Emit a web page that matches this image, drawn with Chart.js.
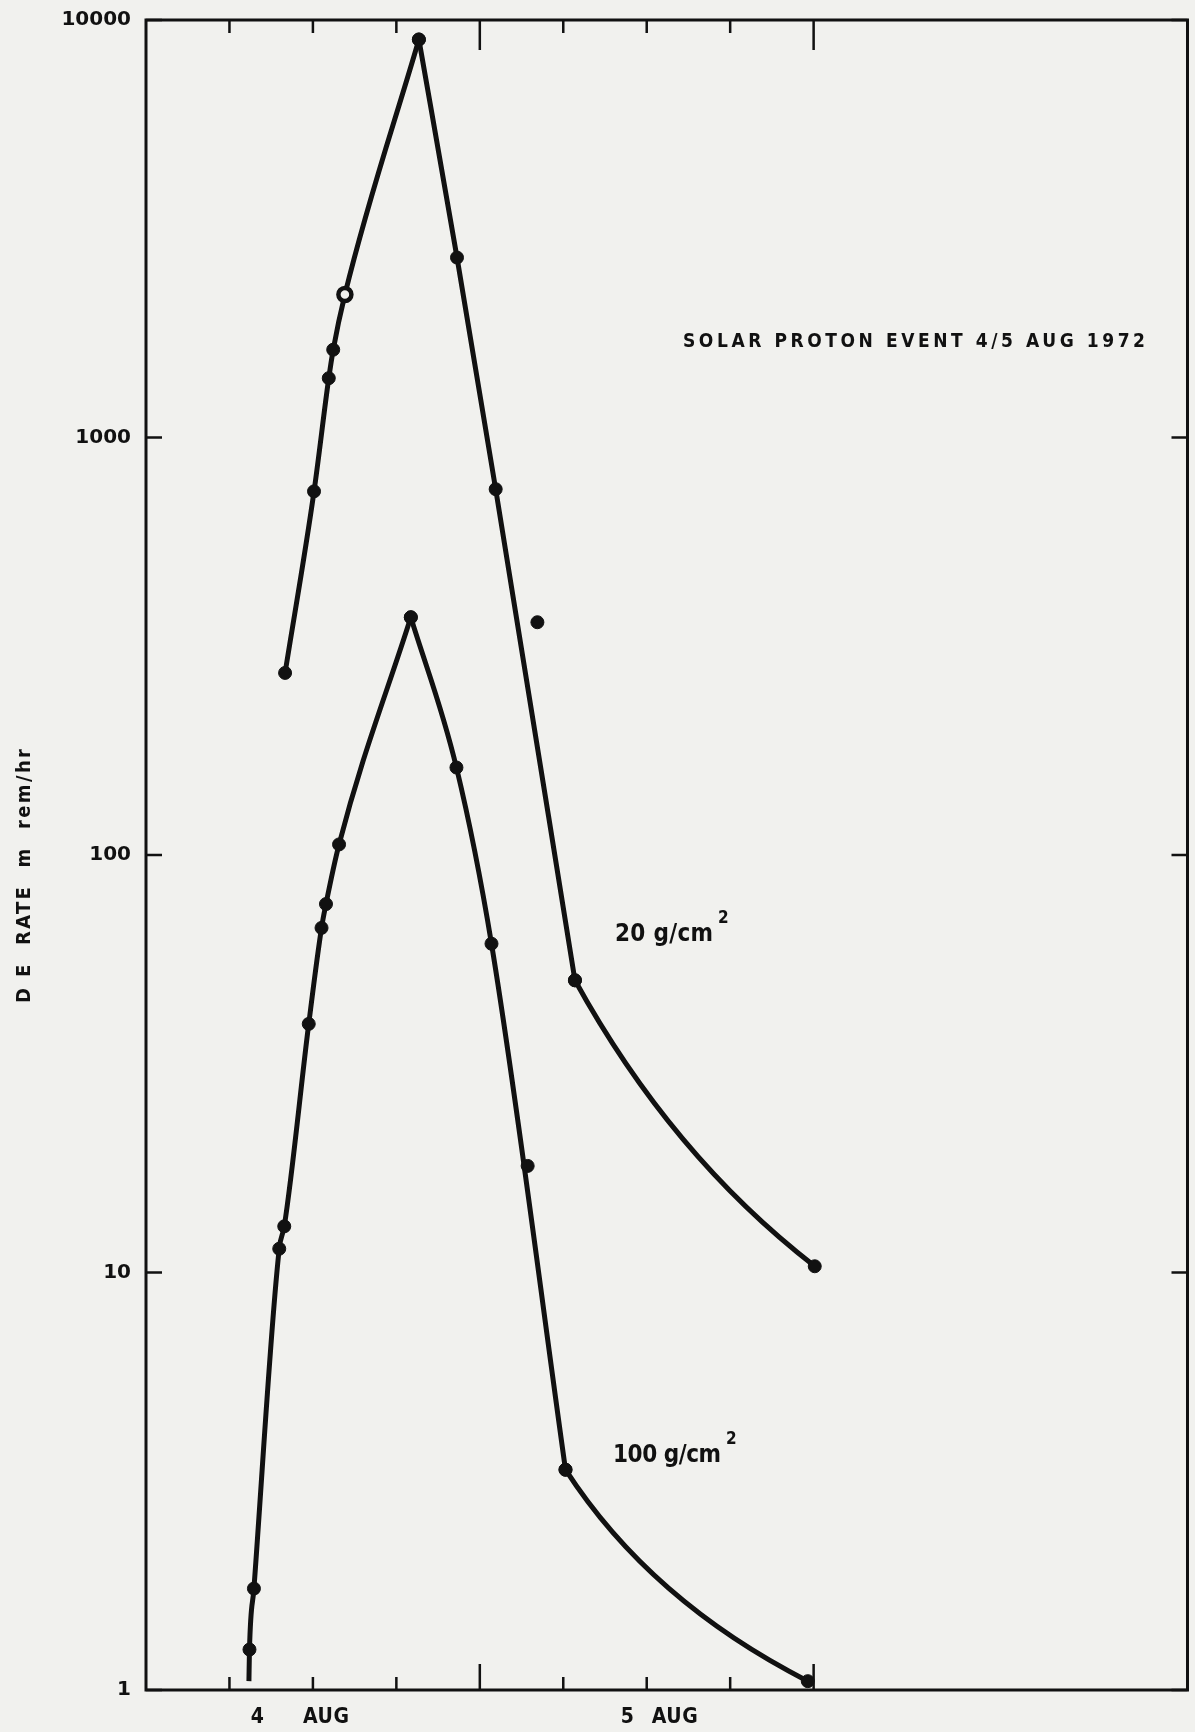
<!DOCTYPE html>
<html>
<head>
<meta charset="utf-8">
<title>Solar proton event 4/5 Aug 1972</title>
<script src="https://cdn.jsdelivr.net/npm/chart.js@4.4.0/dist/chart.umd.min.js"></script>
<style>
  html, body { margin: 0; padding: 0; background: #f1f1ee; }
  #wrap { width: 1195px; height: 1732px; position: relative; }
</style>
</head>
<body>
<div id="wrap"><canvas id="chart"></canvas></div>
<script>
/* Solar proton event 4/5 Aug 1972 — dose equivalent rate vs time */

// time axis in hours from the left edge, ticks every 3 h
const HOURS_20 = [5.00, 6.04, 6.57, 6.73, 7.15, 9.81, 11.18, 12.57, 15.42, 24.04];
const RATE_20  = [273, 743, 1387, 1623, 2200, 8980, 2698, 752, 50.1, 10.35];
const OPEN_POINTS_20 = [4];
const STRAY_HOURS_20 = [14.07];
const STRAY_RATE_20  = [361];

const HOURS_100 = [3.72, 3.88, 4.79, 4.97, 5.85, 6.31, 6.47, 6.94, 9.52, 11.16, 12.42, 15.08, 23.79];
const RATE_100  = [1.25, 1.75, 11.4, 12.9, 39.4, 66.9, 76.3, 106, 371, 162, 61.3, 3.37, 1.05];
// the curve is drawn on below the first reading, down to the axis
const LEAD_HOURS_100 = [3.70];
const LEAD_RATE_100  = [1.05];
const STRAY_HOURS_100 = [13.72];
const STRAY_RATE_100  = [18.0];

const Y_TICKS = [1, 10, 100, 1000, 10000];
const X_TICKS = [3, 6, 9, 12, 15, 18, 21, 24];
const X_LONG_TICKS = [12, 24];
const DAYS = ['4', '5'];

const INK = '#111';
const PAPER = '#f1f1ee';
const NARROW = "'DejaVu Sans Condensed', 'Liberation Sans Narrow', 'DejaVu Sans', sans-serif";
const R = 6.5;

function pts(xs, ys) { return xs.map((x, i) => ({ x: x, y: ys[i] })); }

function peakIndex(ys) { return ys.indexOf(Math.max.apply(null, ys)); }

function lineSet(data, opts) {
  return Object.assign({
    data: data,
    showLine: true,
    borderColor: INK,
    borderWidth: 5,
    pointRadius: R,
    pointBackgroundColor: INK,
    pointBorderColor: INK,
    pointBorderWidth: 1,
    cubicInterpolationMode: 'monotone',
    fill: false,
  }, opts || {});
}

// one curve: monotone rise to the peak, monotone fall to the knee,
// then a bowed tail from the knee to the last reading
function curveSets(all, leadCount, openIdx, bow) {
  const p = peakIndex(all.map(d => d.y));
  const n = all.length;
  const rise = all.slice(0, p + 1);
  const fall = all.slice(p, n - 1);
  const tail = all.slice(n - 2);
  const isOpen = i => openIdx.indexOf(i - leadCount) >= 0;
  return [
    lineSet(rise, {
      pointRadius: rise.map((_, i) => i < leadCount ? 0 : R),
      pointBackgroundColor: rise.map((_, i) => isOpen(i) ? PAPER : INK),
      pointBorderWidth: rise.map((_, i) => isOpen(i) ? 4.5 : 1),
    }),
    lineSet(fall),
    lineSet(tail, { cubicInterpolationMode: 'default', tension: 0.4, bow: bow }),
  ];
}

// bend a two-point tail like the hand-drawn curve (quadratic through a control point)
const bowPlugin = {
  id: 'bow',
  beforeDatasetDraw(chart, args) {
    const ds = chart.data.datasets[args.index];
    if (!ds.bow) return;
    args.meta.dataset.updateControlPoints(chart.chartArea, args.meta.indexAxis);
    const el = args.meta.data;
    const a = el[0], b = el[el.length - 1];
    const qx = a.x + ds.bow[0] * (b.x - a.x);
    const qy = a.y + ds.bow[1] * (b.y - a.y);
    a.cp2x = a.x + 2 / 3 * (qx - a.x); a.cp2y = a.y + 2 / 3 * (qy - a.y);
    b.cp1x = b.x + 2 / 3 * (qx - b.x); b.cp1y = b.y + 2 / 3 * (qy - b.y);
  }
};

// text spread to a given width, like the hand lettering
function fitText(ctx, text, x, y, width) {
  ctx.letterSpacing = '0px';
  const w = ctx.measureText(text).width;
  const extra = (width - w) / Math.max(text.length - 1, 1);
  ctx.letterSpacing = extra + 'px';
  ctx.fillText(text, x, y);
  ctx.letterSpacing = '0px';
}

const framePlugin = {
  id: 'frame',
  beforeDatasetsDraw(chart) {
    const { ctx, chartArea: a, scales } = chart;
    const xs = scales.x, ys = scales.y;
    ctx.save();
    ctx.strokeStyle = INK;
    ctx.lineWidth = 3;
    ctx.strokeRect(a.left, a.top, a.right - a.left, a.bottom - a.top);
    ctx.lineWidth = 2.5;
    ctx.beginPath();
    X_TICKS.forEach(h => {
      const px = xs.getPixelForValue(h);
      const long = X_LONG_TICKS.indexOf(h) >= 0;
      ctx.moveTo(px, a.top); ctx.lineTo(px, a.top + (long ? 30 : 13));
      ctx.moveTo(px, a.bottom); ctx.lineTo(px, a.bottom - (long ? 26 : 13));
    });
    Y_TICKS.forEach(v => {
      const py = ys.getPixelForValue(v);
      ctx.moveTo(a.left, py); ctx.lineTo(a.left + 16, py);
      ctx.moveTo(a.right, py); ctx.lineTo(a.right - 16, py);
    });
    ctx.stroke();
    ctx.restore();
  },
  afterDraw(chart) {
    const { ctx, scales } = chart;
    const xs = scales.x;
    ctx.save();
    ctx.fillStyle = INK;
    ctx.textBaseline = 'alphabetic';
    ctx.textAlign = 'left';

    // day labels under the time axis
    ctx.font = 'bold 21px ' + NARROW;
    const dayAt = [[3.77, 5.64], [17.07, 18.18]];
    DAYS.forEach((d, i) => {
      ctx.fillText(d, xs.getPixelForValue(dayAt[i][0]), 1723);
      fitText(ctx, 'AUG', xs.getPixelForValue(dayAt[i][1]), 1723, 46);
    });

    // title
    ctx.font = 'bold 19px ' + NARROW;
    fitText(ctx, 'SOLAR PROTON EVENT 4/5 AUG 1972', 683, 347, 462);

    // series labels
    ctx.font = 'bold 24px ' + NARROW;
    fitText(ctx, '20 g/cm', 615, 941, 98);
    fitText(ctx, '100 g/cm', 613, 1462, 108);
    ctx.font = 'bold 17px ' + NARROW;
    ctx.fillText('2', 718, 923);
    ctx.fillText('2', 726, 1444);

    // y axis title, reading upward
    ctx.translate(30, 875);
    ctx.rotate(-Math.PI / 2);
    ctx.font = 'bold 20px ' + NARROW;
    fitText(ctx, 'D E  RATE  m  rem/hr', -128, 0, 254);
    ctx.restore();
  }
};

const curve20 = pts(HOURS_20, RATE_20);
const curve100 = pts(LEAD_HOURS_100, LEAD_RATE_100).concat(pts(HOURS_100, RATE_100));

new Chart(document.getElementById('chart'), {
  type: 'scatter',
  data: {
    datasets: []
      .concat(curveSets(curve20, 0, OPEN_POINTS_20, [0.4, 0.61]))
      .concat([lineSet(pts(STRAY_HOURS_20, STRAY_RATE_20), { showLine: false })])
      .concat(curveSets(curve100, LEAD_HOURS_100.length, [], [0.35, 0.62]))
      .concat([lineSet(pts(STRAY_HOURS_100, STRAY_RATE_100), { showLine: false })]),
  },
  options: {
    responsive: true,
    maintainAspectRatio: false,
    animation: false,
    layout: { padding: { top: 20, right: 7, bottom: 0, left: 0 } },
    plugins: { legend: { display: false }, tooltip: { enabled: false } },
    scales: {
      x: {
        type: 'linear',
        min: 0,
        max: 37.44,
        grid: { display: false, drawTicks: false },
        border: { display: false },
        ticks: { display: false },
        afterFit(s) { s.height = 42; },
      },
      y: {
        type: 'logarithmic',
        min: 1,
        max: 10000,
        grid: { display: false, drawTicks: false },
        border: { display: false },
        afterBuildTicks(s) { s.ticks = Y_TICKS.map(v => ({ value: v })); },
        afterFit(s) { s.width = 146; s.paddingTop = 0; s.paddingBottom = 0; },
        ticks: {
          padding: 15,
          color: INK,
          font: { family: "'DejaVu Sans', sans-serif", size: 20, weight: 'bold' },
          callback: v => String(v),
        },
      },
    },
  },
  plugins: [framePlugin, bowPlugin],
});
</script>
</body>
</html>
